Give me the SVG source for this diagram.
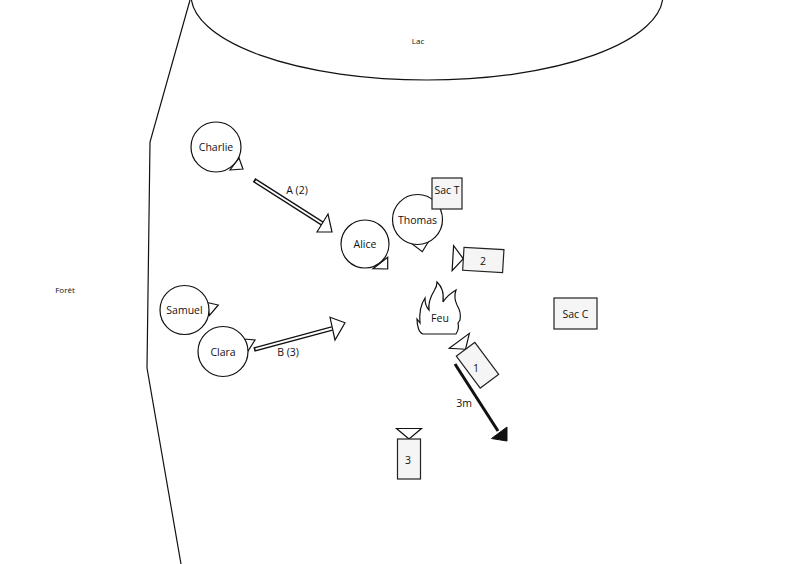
<svg xmlns="http://www.w3.org/2000/svg" width="797" height="564" viewBox="0 0 797 564">
<style>
text{font-family:"Open Sans","Noto Sans","Liberation Sans",sans-serif;font-size:10.5px;fill:#111;text-anchor:middle;dominant-baseline:central}
.sm{font-size:8px}
.line{fill:none;stroke:#111;stroke-width:1.2}
.person{fill:#fff;stroke:#111;stroke-width:1.2}
.nose{fill:#fff;stroke:#111;stroke-width:1.2;stroke-linejoin:miter}
.box{fill:#f5f5f5;stroke:#222;stroke-width:1.2}
.shaftO{stroke:#111;stroke-width:4.5;fill:none}
.shaftI{stroke:#fff;stroke-width:2;fill:none}
.head{fill:#fff;stroke:#111;stroke-width:1.2;stroke-linejoin:miter}
</style>
<defs>
<g id="cam">
<polygon class="nose" points="-12.5,-31 12.5,-31 0,-20.5"/>
<rect class="box" x="-11.5" y="-20.5" width="23" height="40"/>
</g>
</defs>
<rect width="797" height="564" fill="#fff"/>
<g id="foret">
<polyline class="line" points="190,0 150,142 147,368 181,564"/>
<text class="sm" x="65" y="289">Forêt</text>
</g>
<g id="lac">
<ellipse class="line" cx="427" cy="-5" rx="236" ry="85"/>
<text class="sm" x="418" y="40">Lac</text>
</g>
<g id="connectors">
<g id="arrowA">
<line class="shaftO" x1="254" y1="180" x2="323" y2="224"/>
<line class="shaftI" x1="255.5" y1="181" x2="323" y2="224"/>
<polygon class="head" points="317,232 328,214 332,232"/>
<text x="297" y="190">A (2)</text>
</g>
<g id="arrowB">
<line class="shaftO" x1="254" y1="349.5" x2="332" y2="328.5"/>
<line class="shaftI" x1="255.5" y1="349.1" x2="332" y2="328.5"/>
<polygon class="head" points="330,317.3 345,322.7 335,340"/>
<text x="288" y="352">B (3)</text>
</g>
<g id="arrow3m">
<line x1="455" y1="364" x2="498" y2="431" stroke="#111" stroke-width="3"/>
<polygon points="491.5,438.5 507,427 507,441" fill="#111" stroke="#111" stroke-width="1"/>
<text x="464" y="403">3m</text>
</g>
</g>
<g id="charlie">
<polygon class="nose" points="230,170 243,169 239,158"/>
<circle class="person" cx="216" cy="147" r="25"/>
<text x="216" y="147">Charlie</text>
</g>
<g id="samuel">
<polygon class="nose" points="207,302.5 218.3,305 209.5,315.5"/>
<circle class="person" cx="184.5" cy="310" r="24.5"/>
<text x="184.5" y="310">Samuel</text>
</g>
<g id="clara">
<polygon class="nose" points="244,339 255,340 248,351"/>
<circle class="person" cx="223" cy="351.5" r="25"/>
<text x="223" y="351.5">Clara</text>
</g>
<g id="alice">
<polygon class="nose" points="373,268.7 387.7,269 387.7,257.3"/>
<circle class="person" cx="365" cy="244" r="24"/>
<text x="365" y="244">Alice</text>
</g>
<g id="thomas">
<polygon class="nose" points="411.5,243.5 428.5,241.5 422.3,251.7"/>
<circle class="person" cx="417.5" cy="219.5" r="25"/>
<text x="417.5" y="219.5">Thomas</text>
</g>
<g id="sacT">
<rect class="box" x="432" y="178" width="30" height="31"/>
<text x="447" y="190">Sac T</text>
</g>
<g id="sacC">
<rect class="box" x="554" y="298" width="43" height="31"/>
<text x="575.5" y="314">Sac C</text>
</g>
<g id="feu">
<path class="person" d="M423,334 C419,333 417,326 417,319 L420,323 C419,312 421,304 425,298 C425,303 426,307 429,310 C428,302 431,296 434,291 C436,288 437,285 437,282 C442,287 444,292 443,302 C446,297 451,293 456,290 C454,296 455,301 457,305 C460,310 461,315 460,320 L458,323 C459,327 458,331 456,334 Z"/>
<text x="440" y="318">Feu</text>
</g>
<g id="cam1">
<use href="#cam" transform="translate(477.8,365.7) rotate(-36.6)"/>
<text x="476" y="368">1</text>
</g>
<g id="cam2">
<use href="#cam" transform="translate(483.8,260) rotate(-86.6)"/>
<text x="483" y="261">2</text>
</g>
<g id="cam3">
<use href="#cam" transform="translate(409,459.5)"/>
<text x="408" y="460">3</text>
</g>
</svg>
